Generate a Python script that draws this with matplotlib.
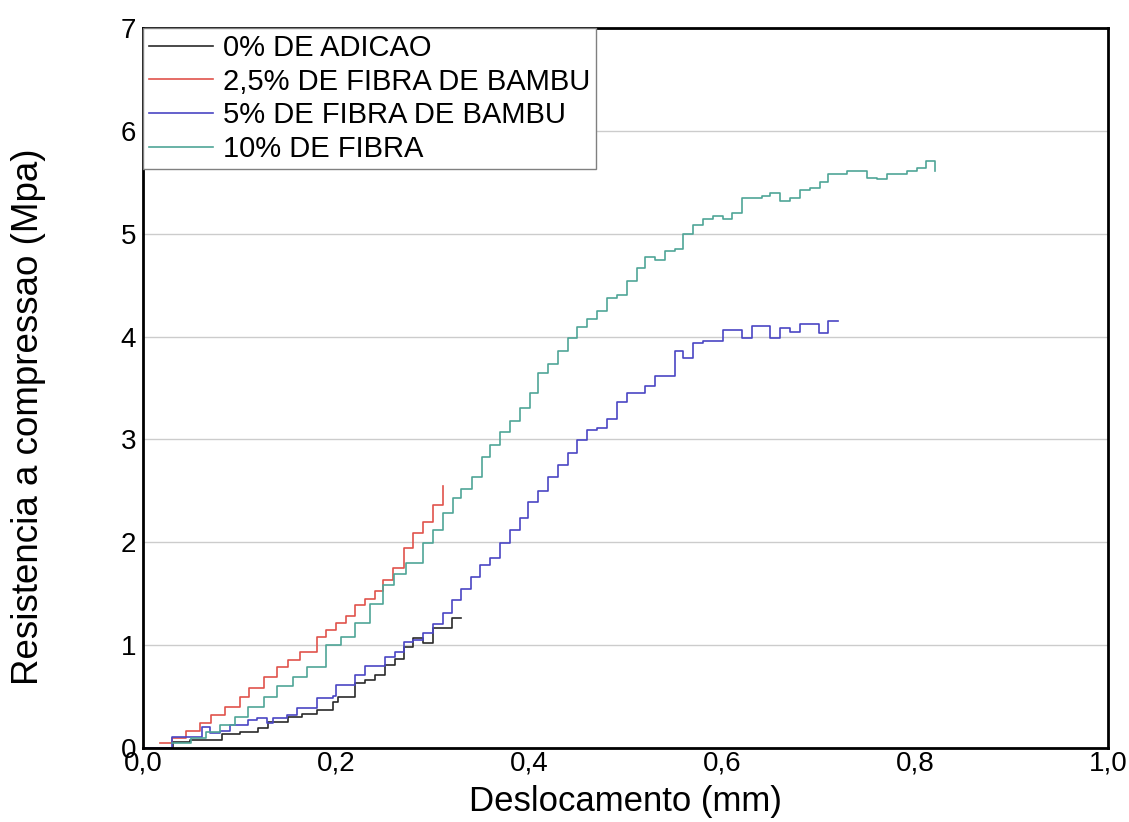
import matplotlib
matplotlib.use('Agg')
import matplotlib.pyplot as plt

plt.rcParams['font.family'] = ['Liberation Sans', 'DejaVu Sans']

# curvas (deslocamento mm, resistencia MPa)
x_0 = [0.000, 0.031, 0.049, 0.069, 0.082, 0.100, 0.119, 0.130, 0.150, 0.165, 0.180,
       0.197, 0.202, 0.220, 0.230, 0.240, 0.251, 0.261, 0.270, 0.280, 0.290, 0.301,
       0.311, 0.320, 0.329]
y_0 = [0.00, 0.06, 0.08, 0.08, 0.14, 0.16, 0.19, 0.25, 0.30, 0.33, 0.37,
       0.45, 0.50, 0.63, 0.66, 0.71, 0.81, 0.87, 0.98, 1.07, 1.02, 1.17,
       1.17, 1.26, 1.26]

x_25 = [0.018, 0.030, 0.045, 0.059, 0.070, 0.085, 0.100, 0.110, 0.125, 0.139, 0.150,
        0.163, 0.180, 0.190, 0.200, 0.210, 0.220, 0.230, 0.240, 0.249, 0.259, 0.270,
        0.280, 0.290, 0.300, 0.311]
y_25 = [0.05, 0.10, 0.17, 0.24, 0.32, 0.40, 0.50, 0.58, 0.69, 0.79, 0.86,
        0.93, 1.08, 1.15, 1.22, 1.28, 1.39, 1.45, 1.53, 1.63, 1.75, 1.94,
        2.09, 2.20, 2.36, 2.55]

x_5 = [0.000, 0.030, 0.045, 0.061, 0.069, 0.080, 0.090, 0.109, 0.118, 0.128, 0.135,
       0.149, 0.160, 0.180, 0.197, 0.200, 0.220, 0.230, 0.251, 0.261, 0.270, 0.280,
       0.290, 0.301, 0.311, 0.320, 0.330, 0.340, 0.349, 0.360, 0.370, 0.380, 0.391,
       0.399, 0.409, 0.420, 0.430, 0.440, 0.450, 0.460, 0.470, 0.481, 0.491, 0.502,
       0.520, 0.531, 0.551, 0.560, 0.570, 0.580, 0.601, 0.610, 0.621, 0.631, 0.650,
       0.660, 0.670, 0.681, 0.700, 0.710, 0.720]
y_5 = [0.00, 0.11, 0.11, 0.20, 0.15, 0.17, 0.22, 0.27, 0.29, 0.24, 0.29,
       0.32, 0.39, 0.49, 0.51, 0.61, 0.71, 0.80, 0.88, 0.93, 1.03, 1.05,
       1.12, 1.21, 1.31, 1.44, 1.55, 1.66, 1.78, 1.85, 1.99, 2.12, 2.24,
       2.39, 2.50, 2.63, 2.75, 2.87, 2.99, 3.09, 3.11, 3.20, 3.36, 3.45,
       3.52, 3.62, 3.86, 3.79, 3.94, 3.96, 4.06, 4.06, 3.99, 4.10, 3.99,
       4.08, 4.04, 4.12, 4.03, 4.15, 4.15]

x_10 = [0.030, 0.050, 0.065, 0.080, 0.095, 0.109, 0.125, 0.139, 0.155, 0.170, 0.190,
        0.205, 0.220, 0.235, 0.249, 0.260, 0.272, 0.290, 0.300, 0.311, 0.321, 0.330,
        0.341, 0.351, 0.360, 0.370, 0.380, 0.391, 0.401, 0.409, 0.420, 0.430, 0.440,
        0.450, 0.460, 0.470, 0.481, 0.491, 0.502, 0.512, 0.520, 0.531, 0.541, 0.551,
        0.560, 0.570, 0.580, 0.591, 0.601, 0.610, 0.621, 0.631, 0.641, 0.650, 0.660,
        0.670, 0.681, 0.691, 0.702, 0.710, 0.720, 0.730, 0.750, 0.761, 0.771, 0.781,
        0.792, 0.802, 0.811, 0.821]
y_10 = [0.05, 0.10, 0.16, 0.22, 0.30, 0.40, 0.50, 0.60, 0.69, 0.79, 1.00,
        1.08, 1.22, 1.40, 1.58, 1.69, 1.80, 1.99, 2.12, 2.28, 2.43, 2.52,
        2.63, 2.83, 2.95, 3.07, 3.18, 3.31, 3.45, 3.65, 3.73, 3.86, 3.99,
        4.09, 4.17, 4.25, 4.37, 4.40, 4.54, 4.67, 4.77, 4.74, 4.83, 4.85,
        5.00, 5.08, 5.14, 5.17, 5.14, 5.20, 5.35, 5.35, 5.37, 5.40, 5.32,
        5.35, 5.42, 5.44, 5.50, 5.58, 5.58, 5.61, 5.54, 5.53, 5.58, 5.58,
        5.61, 5.64, 5.71, 5.61]

labels = ['0% DE ADICAO', '2,5% DE FIBRA DE BAMBU', '5% DE FIBRA DE BAMBU', '10% DE FIBRA']
cores = ['#2a2a2a', '#e0534c', '#4a46c4', '#4fa597']

fig = plt.figure(figsize=(11.29, 8.22), dpi=100)
ax = fig.add_axes([0.1267, 0.090, 0.8547, 0.876])

for xs, ys, lab, c in zip([x_0, x_25, x_5, x_10], [y_0, y_25, y_5, y_10], labels, cores):
    ax.plot(xs, ys, drawstyle='steps-post', color=c, lw=1.2, label=lab)

ax.set_xlim(0, 1.0)
ax.set_ylim(0, 7)
ax.set_xticks([0, 0.2, 0.4, 0.6, 0.8, 1.0])
ax.set_xticklabels(['0,0', '0,2', '0,4', '0,6', '0,8', '1,0'])
ax.set_yticks(range(0, 8))
ax.tick_params(length=0, labelsize=20)
ax.tick_params(axis='x', pad=2)
ax.tick_params(axis='y', pad=5)
ax.yaxis.grid(True, color='#cccccc', lw=1)
ax.set_axisbelow(True)
for s in ax.spines.values():
    s.set_linewidth(2)
    s.set_color('black')

ax.set_xlabel('Deslocamento (mm)', fontsize=25, labelpad=6)
ax.set_ylabel('Resistencia a compressao (Mpa)', fontsize=26.5)
ax.yaxis.set_label_coords(-0.101, 0.46)

leg = ax.legend(loc='upper left', bbox_to_anchor=(0, 1), fontsize=21, frameon=True,
                fancybox=False, edgecolor='#808080', framealpha=1, borderaxespad=0,
                handlelength=2.2, handletextpad=0.35, labelspacing=0.2, borderpad=0.2)
leg.get_frame().set_linewidth(1)

fig.savefig('out.png', dpi=100)
